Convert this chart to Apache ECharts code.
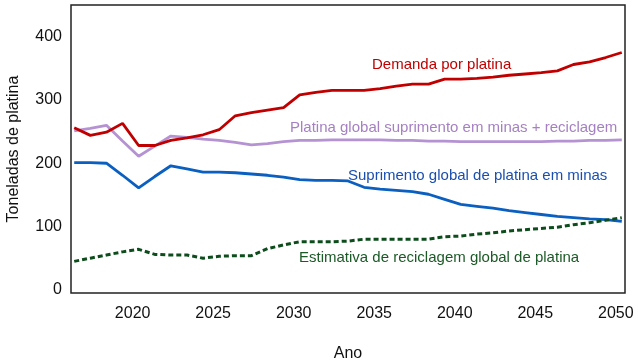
<!DOCTYPE html>
<html>
<head>
<meta charset="utf-8">
<script src="https://cdn.jsdelivr.net/npm/echarts@6/dist/echarts.min.js"></script>
<style>
html,body{margin:0;padding:0;background:#fff;}
#chart{width:638px;height:361px;}
</style>
</head>
<body>
<div id="chart"></div>
<script>
var years = [2016,2017,2018,2019,2020,2021,2022,2023,2024,2025,2026,2027,2028,2029,2030,2031,2032,2033,2034,2035,2036,2037,2038,2039,2040,2041,2042,2043,2044,2045,2046,2047,2048,2049,2050];
var demanda = [256,244,249,263,228,228,236,240,245,253,275,280,284,288,308,312,315,315,315,318,322,325,325,333,333,334,336,339,341,343,346,356,360,367,375];
var suprimentoTotal = [251,255,260,235,211,227,243,241,238,236,233,229,231,234,236,236,237,237,237,237,236,236,235,235,234,234,234,234,234,234,235,235,236,236,237];
var suprimentoMinas = [201,201,200,181,161,179,196,191,186,186,185,183,181,178,174,173,173,172,162,159,157,155,151,143,135,132,129,125,122,119,116,114,112,111,108];
var reciclagem = [45,50,55,60,64,56,55,55,50,53,54,54,65,71,76,76,76,77,80,80,80,80,80,84,85,88,90,93,95,97,99,103,106,110,114];
var xTicks = [2020,2025,2030,2035,2040,2045,2050];
var yTicks = [0,100,200,300,400];
var seriesNames = ['Demanda por platina','Platina global suprimento em minas + reciclagem','Suprimento global de platina em minas','Estimativa de reciclagem global de platina'];

function pairs(vals){ return years.map(function(y,i){ return [y, vals[i]]; }); }

var font = '"Liberation Sans", Arial, sans-serif';
var chart = echarts.init(document.getElementById('chart'), null, {renderer:'canvas'});
chart.setOption({
  animation:false,
  backgroundColor:'#fff',
  grid:{left:71,right:13,top:5,bottom:68,show:true,borderColor:'#222',borderWidth:1.5,backgroundColor:'transparent',containLabel:false,outerBoundsMode:'none'},
  xAxis:{type:'value',min:2015.8,max:2050.2,
    name:'Ano',nameLocation:'middle',nameGap:53,
    nameTextStyle:{fontFamily:font,fontSize:16,color:'#111'},
    axisLine:{show:false},axisTick:{show:false},splitLine:{show:false},
    axisLabel:{customValues:xTicks,formatter:function(v){return String(v);},fontFamily:font,fontSize:16,color:'#111',margin:13,padding:[0,12,0,0]}
  },
  yAxis:{type:'value',min:-5,max:450,
    name:'Toneladas de platina',nameLocation:'middle',nameGap:49,
    nameTextStyle:{fontFamily:font,fontSize:16,color:'#111'},
    axisLine:{show:false},axisTick:{show:false},splitLine:{show:false},
    axisLabel:{customValues:yTicks,fontFamily:font,fontSize:16,color:'#111',margin:9}
  },
  series:[
    {name:seriesNames[0],type:'line',data:pairs(demanda),symbol:'none',lineStyle:{color:'#c00000',width:2.8},z:4},
    {name:seriesNames[1],type:'line',data:pairs(suprimentoTotal),symbol:'none',lineStyle:{color:'#b592d2',width:2.8},z:3},
    {name:seriesNames[2],type:'line',data:pairs(suprimentoMinas),symbol:'none',lineStyle:{color:'#0a5fc0',width:2.8},z:2},
    {name:seriesNames[3],type:'line',data:pairs(reciclagem),symbol:'none',lineStyle:{color:'#0d4d1c',width:3,type:[5,3]},z:5}
  ],
  graphic:[
    {type:'text',left:372,top:57,style:{text:seriesNames[0],fill:'#c00000',font:'15px '+font}},
    {type:'text',left:290,top:120,style:{text:seriesNames[1],fill:'#a581c2',font:'15px '+font}},
    {type:'text',left:348,top:168,style:{text:seriesNames[2],fill:'#1a4fb0',font:'15px '+font}},
    {type:'text',left:299,top:250,style:{text:seriesNames[3],fill:'#1b5a26',font:'15px '+font}}
  ]
});
</script>
</body>
</html>
